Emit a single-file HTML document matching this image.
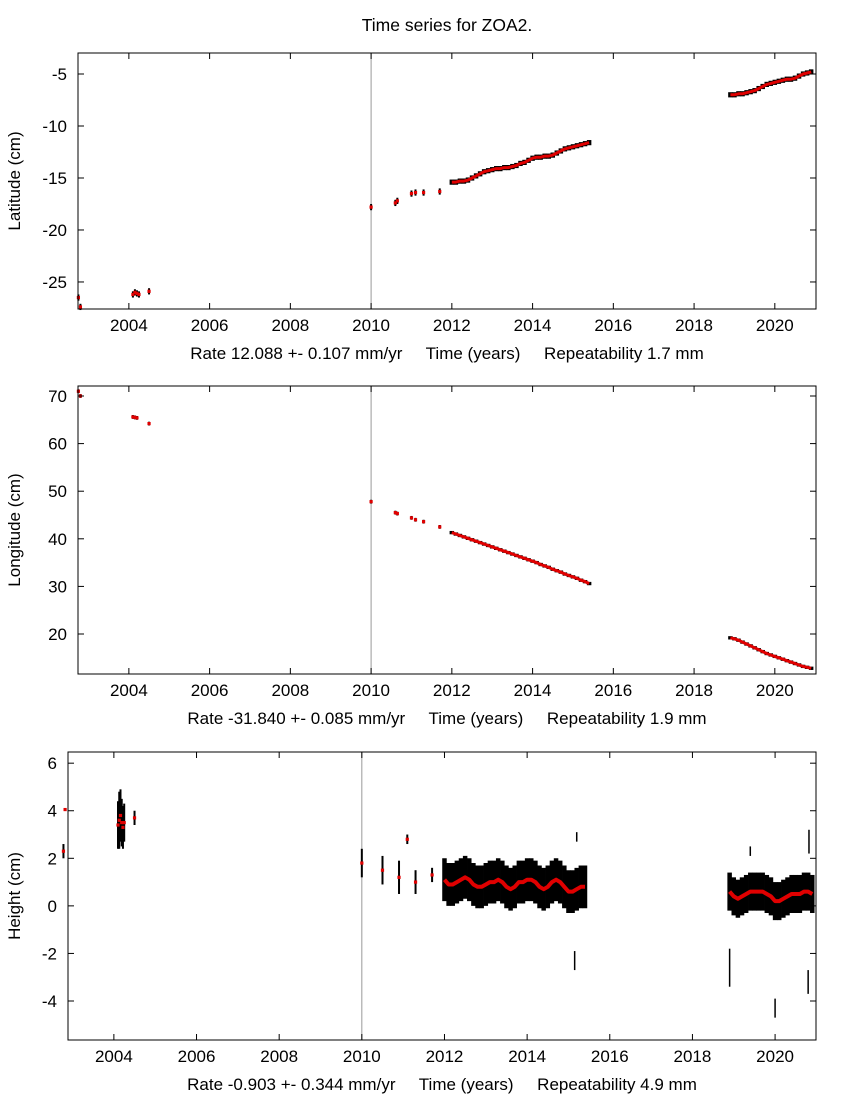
<!DOCTYPE html>
<html><head><meta charset="utf-8"><style>
body{margin:0;background:#fff}
svg text{font-family:"Liberation Sans",sans-serif;font-size:17px;fill:#000}
</style></head><body>
<svg id="c" width="850" height="1100">
<text x="447" y="31" text-anchor="middle" style="font-size:17.5px">Time series for ZOA2.</text>
</svg>
<script>
const xTicks=[2004,2006,2008,2010,2012,2014,2016,2018,2020];
const latTicks=[-5,-10,-15,-20,-25];
const lonTicks=[70,60,50,40,30,20];
const hgtTicks=[6,4,2,0,-2,-4];
// Latitude data
const latT1=[2002.75,2002.8,2004.1,2004.15,2004.2,2004.25,2004.5,2010.0,2010.6,2010.65,2011.0,2011.1,2011.3,2011.7];
const latV1=[-26.5,-27.4,-26.2,-26.0,-26.1,-26.2,-25.9,-17.8,-17.4,-17.2,-16.5,-16.4,-16.4,-16.3];
const latT2=[2012.0,2012.1,2012.2,2012.3,2012.4,2012.5,2012.6,2012.7,2012.8,2012.9,2013.0,2013.1,2013.2,2013.3,2013.4,2013.5,2013.6,2013.7,2013.8,2013.9,2014.0,2014.1,2014.2,2014.3,2014.4,2014.5,2014.6,2014.7,2014.8,2014.9,2015.0,2015.1,2015.2,2015.3,2015.4];
const latV2=[-15.4,-15.4,-15.3,-15.3,-15.2,-15.0,-14.8,-14.6,-14.4,-14.3,-14.2,-14.1,-14.1,-14.0,-14.0,-13.9,-13.8,-13.6,-13.5,-13.3,-13.1,-13.0,-13.0,-12.9,-12.9,-12.8,-12.6,-12.4,-12.2,-12.1,-12.0,-11.9,-11.8,-11.7,-11.6];
const latT3=[2018.9,2019.0,2019.1,2019.2,2019.3,2019.4,2019.5,2019.6,2019.7,2019.8,2019.9,2020.0,2020.1,2020.2,2020.3,2020.4,2020.5,2020.6,2020.7,2020.8,2020.9];
const latV3=[-7.0,-7.0,-6.9,-6.9,-6.8,-6.7,-6.6,-6.4,-6.2,-6.0,-5.9,-5.8,-5.7,-5.6,-5.5,-5.5,-5.4,-5.2,-5.0,-4.9,-4.8];
// Longitude data
const lonT1=[2002.75,2002.8,2004.1,2004.15,2004.2,2004.5,2010.0,2010.6,2010.65,2011.0,2011.1,2011.3,2011.7];
const lonV1=[71.0,70.0,65.6,65.5,65.4,64.2,47.8,45.5,45.3,44.4,44.0,43.6,42.5];
const lonV2=[41.3,41.0,40.7,40.4,40.1,39.8,39.5,39.2,38.9,38.6,38.3,38.0,37.7,37.4,37.1,36.8,36.5,36.2,35.9,35.6,35.3,35.0,34.6,34.3,34.0,33.6,33.3,33.0,32.6,32.3,32.0,31.7,31.3,31.0,30.6];
const lonV3=[19.2,19.0,18.7,18.3,17.9,17.5,17.1,16.7,16.3,15.9,15.6,15.3,15.0,14.7,14.4,14.1,13.8,13.5,13.2,13.0,12.8];
// Height data
const hgtT1=[2002.78,2002.82,2004.1,2004.13,2004.16,2004.19,2004.22,2004.25,2004.5,2010.0,2010.5,2010.9,2011.1,2011.3,2011.7];
const hgtV1=[2.3,4.05,3.4,3.6,3.8,3.5,3.3,3.5,3.7,1.8,1.5,1.2,2.8,1.0,1.3];
const hgtE1=[0.3,0.05,1.0,1.2,1.1,1.0,0.9,0.8,0.3,0.6,0.6,0.7,0.2,0.5,0.3];
const hgtV2=[1.1,0.9,0.9,1.0,1.1,1.2,1.1,0.9,0.8,0.8,0.9,1.0,1.0,1.1,1.0,0.8,0.7,0.8,1.0,1.0,1.1,1.1,1.0,0.8,0.7,0.8,1.0,1.1,1.0,0.8,0.6,0.6,0.7,0.8,0.8];
const hgtV3=[0.6,0.4,0.3,0.4,0.5,0.6,0.6,0.6,0.6,0.5,0.4,0.2,0.2,0.3,0.4,0.5,0.5,0.5,0.6,0.6,0.5];
const outT=[2015.15,2015.2,2018.9,2019.4,2020.0,2020.8,2020.82];
const outV=[-2.3,2.9,-2.6,2.3,-4.3,-3.2,2.7];
const outE=[0.4,0.2,0.8,0.2,0.4,0.5,0.5];

const NS="http://www.w3.org/2000/svg";
const svg=document.getElementById('c');
function el(tag,a,parent){const e=document.createElementNS(NS,tag);for(const k in a)e.setAttribute(k,a[k]);(parent||svg).appendChild(e);return e;}

function panel(P){
  const g=el('g',{});
  
  
  const X=t=>P.x0+(t-P.t0)/(P.t1-P.t0)*(P.x1-P.x0);
  const Y=v=>P.y1-(v-P.v0)/(P.v1-P.v0)*(P.y1-P.y0);
  const ev=el('line',{x1:X(2010.0),x2:X(2010.0),y1:P.y0,y2:P.y1,stroke:'#999','stroke-width':1},g);
  
  
  function bars(T,V,E,w){
    for(let i=0;i<T.length;i++){
      const b=el('line',{x1:X(T[i]),x2:X(T[i]),y1:Y(V[i]+E[i]),y2:Y(V[i]-E[i]),stroke:'#000','stroke-width':w},g);
      
      
    }
  }
  function model(T,V,r){
    for(let i=0;i<T.length;i++){
      const d=el('rect',{x:X(T[i])-r,y:Y(V[i])-r,width:2*r,height:2*r,fill:'#e00000'},g);
      
      
    }
  }
  function line(T,V){
    let s='';for(let i=0;i<T.length;i++)s+=(i?'L':'M')+X(T[i]).toFixed(1)+','+Y(V[i]).toFixed(1);
    const p=el('path',{d:s,fill:'none',stroke:'#e00000','stroke-width':P.lw||3,'stroke-linejoin':'round'},g);
    
    
  }
  P.series.forEach(s=>{
    bars(s.t,s.v,s.e,s.w);
    if(s.dense) line(s.t,s.v); else model(s.t,s.v,1.6);
  });
  if(P.extra) P.extra(bars);
  const f=el('rect',{x:P.x0,y:P.y0,width:P.x1-P.x0,height:P.y1-P.y0,fill:'none',stroke:'#000','stroke-width':1},g);
  
  
  xTicks.forEach(t=>{
    const x=X(t);
    el('line',{x1:x,x2:x,y1:P.y1,y2:P.y1-6,stroke:'#000'},g);
    el('line',{x1:x,x2:x,y1:P.y0,y2:P.y0+6,stroke:'#000'},g);
    const tx=el('text',{x:x,y:P.y1+22,'text-anchor':'middle'},g);tx.textContent=t;
    
    
  });
  P.yTicks.forEach(v=>{
    const y=Y(v);
    el('line',{x1:P.x0,x2:P.x0+6,y1:y,y2:y,stroke:'#000'},g);
    el('line',{x1:P.x1,x2:P.x1-6,y1:y,y2:y,stroke:'#000'},g);
    const tx=el('text',{x:P.x0-11,y:y+6,'text-anchor':'end'},g);tx.textContent=v;
    
    
  });
  const yl=el('text',{x:0,y:0,'text-anchor':'middle',transform:`translate(${P.ylx},${(P.y0+P.y1)/2}) rotate(-90)`},g);
  yl.textContent=P.ylabel;
  
  
  const xl=el('text',{x:P.xlx,y:P.y1+50,'text-anchor':'middle'},g);
  xl.setAttribute('style','white-space:pre');
  xl.textContent=P.xlabel;
  
  
}
const c=(n,v)=>new Array(n).fill(v);
panel({name:'latitude-panel',x0:78,x1:816,y0:53,y1:309,t0:2002.74,t1:2021.02,v0:-27.6,v1:-2.98,yTicks:latTicks,ylx:20,xlx:447,
  ylabel:'Latitude (cm)',xlabel:'Rate 12.088 +- 0.107 mm/yr     Time (years)     Repeatability 1.7 mm',
  series:[{t:latT1,v:latV1,e:c(latT1.length,0.3),w:2},{t:latT2,v:latV2,e:c(latT2.length,0.25),w:4.5,dense:1},{t:latT3,v:latV3,e:c(latT3.length,0.25),w:4.5,dense:1}]});
panel({name:'longitude-panel',x0:78,x1:816,y0:386,y1:674,t0:2002.74,t1:2021.02,v0:11.6,v1:72.1,yTicks:lonTicks,ylx:20,xlx:447,
  ylabel:'Longitude (cm)',xlabel:'Rate -31.840 +- 0.085 mm/yr     Time (years)     Repeatability 1.9 mm',
  series:[{t:lonT1,v:lonV1,e:c(lonT1.length,0.4),w:2},{t:latT2,v:lonV2,e:c(latT2.length,0.35),w:4.5,dense:1},{t:latT3,v:lonV3,e:c(latT3.length,0.35),w:4.5,dense:1}]});
panel({name:'height-panel',x0:68,x1:816,y0:752,y1:1040,t0:2002.89,t1:2020.99,v0:-5.64,v1:6.47,yTicks:hgtTicks,ylx:20,xlx:442,lw:4,
  ylabel:'Height (cm)',xlabel:'Rate -0.903 +- 0.344 mm/yr     Time (years)     Repeatability 4.9 mm',
  series:[{t:hgtT1,v:hgtV1,e:hgtE1,w:2},{t:latT2,v:hgtV2,e:c(latT2.length,0.9),w:4.5,dense:1},{t:latT3,v:hgtV3,e:c(latT3.length,0.8),w:4.5,dense:1}],
  extra:(bars)=>bars(outT,outV,outE,1.5)});
</script>
</body></html>
